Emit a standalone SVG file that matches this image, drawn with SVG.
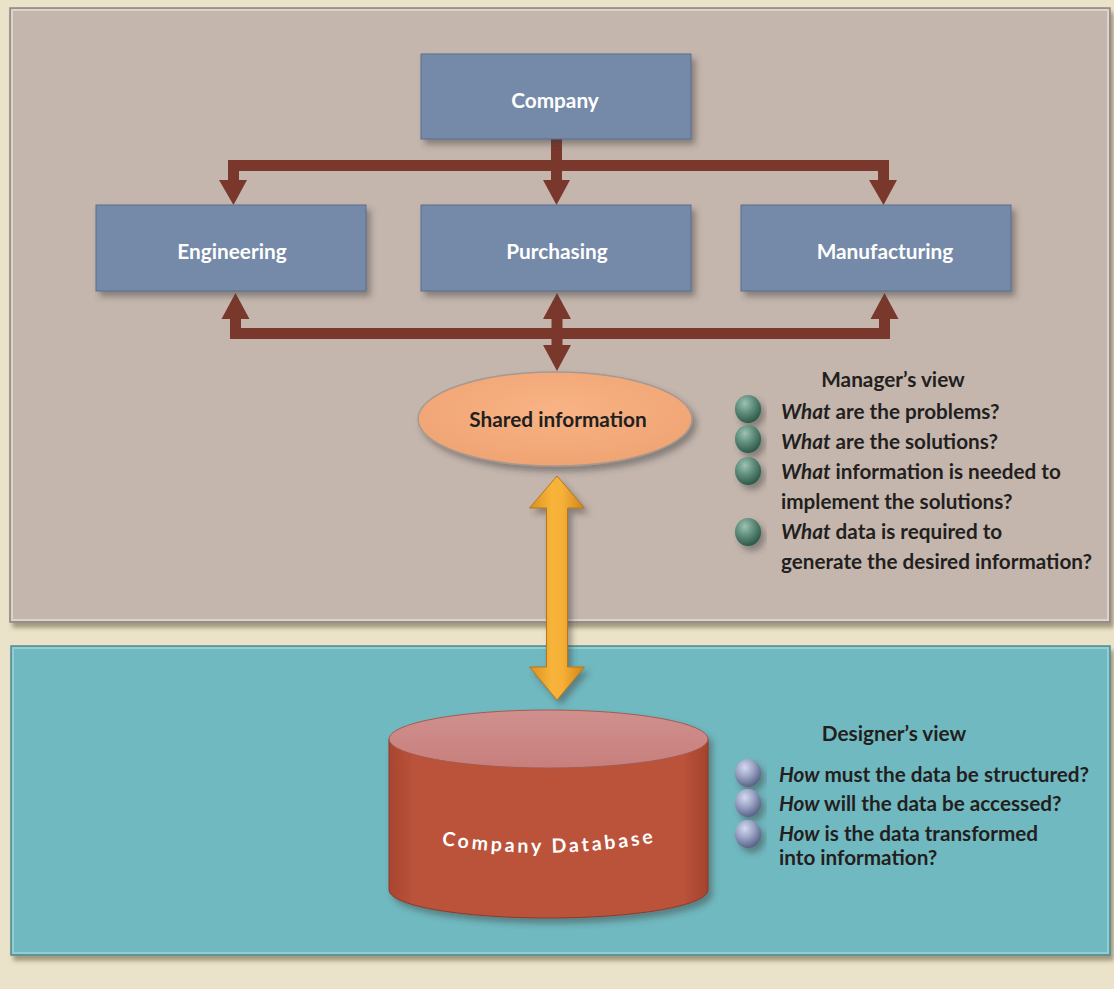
<svg xmlns="http://www.w3.org/2000/svg" width="1114" height="989" viewBox="0 0 1114 989">
<defs>
<style>
.lbl{font-family:Lato,"Open Sans","Liberation Sans",sans-serif;font-weight:bold;font-size:20.8px;fill:#ffffff;text-anchor:middle}
.hd{font-family:Lato,"Open Sans","Liberation Sans",sans-serif;font-weight:bold;font-size:20.8px;fill:#231f20;text-anchor:middle}
.bt{font-family:Lato,"Open Sans","Liberation Sans",sans-serif;font-weight:bold;font-size:20.7px;fill:#231f20}
.bt tspan.i{font-style:italic}
.box{fill:#7489a8;stroke:#5b6e8a;stroke-width:1}
.conn{fill:#7a382c}
</style>
<filter id="sh" x="-10%" y="-10%" width="130%" height="140%">
<feDropShadow dx="4" dy="5" stdDeviation="3" flood-color="#3a3a3a" flood-opacity="0.45"/>
</filter>
<filter id="psh" x="-5%" y="-5%" width="110%" height="115%">
<feDropShadow dx="3" dy="5" stdDeviation="2" flood-color="#5a5030" flood-opacity="0.5"/>
</filter>
<linearGradient id="boxg" x1="0" y1="0" x2="0" y2="1">
<stop offset="0" stop-color="#7f93b0"/>
<stop offset="0.1" stop-color="#7489a8"/>
<stop offset="0.9" stop-color="#7186a5"/>
<stop offset="1" stop-color="#5a6d8a"/>
</linearGradient>
<linearGradient id="orng" x1="0" y1="0" x2="1" y2="0">
<stop offset="0" stop-color="#d8901f"/>
<stop offset="0.4" stop-color="#f7b43a"/>
<stop offset="0.6" stop-color="#f6b038"/>
<stop offset="1" stop-color="#cf8519"/>
</linearGradient>
<radialGradient id="ellg" cx="0.5" cy="0.4" r="0.6">
<stop offset="0" stop-color="#f8b384"/>
<stop offset="1" stop-color="#f0a474"/>
</radialGradient>
<radialGradient id="green" cx="0.38" cy="0.3" r="0.7">
<stop offset="0" stop-color="#9cc2b2"/>
<stop offset="0.5" stop-color="#5f8d7c"/>
<stop offset="1" stop-color="#2f5a4a"/>
</radialGradient>
<radialGradient id="blue" cx="0.38" cy="0.3" r="0.7">
<stop offset="0" stop-color="#d4daf0"/>
<stop offset="0.5" stop-color="#9aa3c4"/>
<stop offset="1" stop-color="#5a6488"/>
</radialGradient>
<linearGradient id="cylg" x1="0" y1="0" x2="1" y2="0">
<stop offset="0" stop-color="#a8452f"/>
<stop offset="0.08" stop-color="#bb533b"/>
<stop offset="0.92" stop-color="#bb533b"/>
<stop offset="1" stop-color="#a4432e"/>
</linearGradient>
<linearGradient id="topg" x1="0" y1="0" x2="0" y2="1">
<stop offset="0" stop-color="#d0908e"/>
<stop offset="1" stop-color="#c77f7c"/>
</linearGradient>
<path id="dbpath" d="M 430,843 Q 549,864 668,840"/>
</defs>

<rect x="0" y="0" width="1114" height="989" fill="#ebe3c9"/>

<g id="manager-panel">
<rect x="10" y="8" width="1100" height="614" fill="#c4b6ad" stroke="#8d8580" stroke-width="1.5" filter="url(#psh)"/>
<rect x="12" y="10" width="1096" height="610" fill="none" stroke="#dcd3cf" stroke-width="2"/>
</g>
<g id="designer-panel">
<rect x="11" y="646" width="1099" height="309" fill="#6fb9c0" stroke="#4f8c92" stroke-width="1.5" filter="url(#psh)"/>
<rect x="13" y="648" width="1095" height="305" fill="none" stroke="#93cdd2" stroke-width="2"/>
</g>

<g id="connectors">
<rect class="conn" x="551" y="139" width="11" height="42"/>
<rect class="conn" x="228" y="160" width="661" height="11"/>
<rect class="conn" x="228" y="160" width="11" height="21"/>
<rect class="conn" x="878" y="160" width="11" height="21"/>
<polygon class="conn" points="219,180 247,180 233.5,205"/>
<polygon class="conn" points="543,180 570,180 556.5,205"/>
<polygon class="conn" points="869,180 897,180 883.5,205"/>

<rect class="conn" x="230" y="328" width="660" height="11"/>
<rect class="conn" x="230" y="318" width="11" height="21"/>
<rect class="conn" x="879" y="318" width="11" height="21"/>
<rect class="conn" x="551.5" y="318" width="11" height="28"/>
<polygon class="conn" points="221.5,319 249.5,319 235.5,293"/>
<polygon class="conn" points="870.5,319 898.5,319 884.5,293"/>
<polygon class="conn" points="543,319 571,319 557,293"/>
<polygon class="conn" points="543,345 571,345 557,371"/>

<polygon points="557,476 584.5,508 567.5,508 567.5,667 584.5,667 557,700 529.5,667 546.5,667 546.5,508 529.5,508" fill="url(#orng)" stroke="#b8761c" stroke-width="1" filter="url(#sh)"/>
</g>

<g id="company">
<rect class="box" x="421" y="54" width="270" height="85" fill="url(#boxg)" filter="url(#sh)"/>
<text class="lbl" x="555" y="108">Company</text>
</g>
<g id="engineering">
<rect class="box" x="96" y="205" width="270" height="86" fill="url(#boxg)" filter="url(#sh)"/>
<text class="lbl" x="232" y="259">Engineering</text>
</g>
<g id="purchasing">
<rect class="box" x="421" y="205" width="270" height="86" fill="url(#boxg)" filter="url(#sh)"/>
<text class="lbl" x="557" y="259">Purchasing</text>
</g>
<g id="manufacturing">
<rect class="box" x="741" y="205" width="270" height="86" fill="url(#boxg)" filter="url(#sh)"/>
<text class="lbl" x="885" y="259">Manufacturing</text>
</g>

<g id="shared-information">
<ellipse cx="555" cy="419" rx="137" ry="47" fill="url(#ellg)" stroke="#a89890" stroke-width="1.5" filter="url(#sh)"/>
<text class="hd" x="558" y="427" font-size="21.5px">Shared information</text>
</g>

<g id="managers-view">
<text class="hd" x="893" y="387">Manager’s view</text>
<g filter="url(#sh)">
<ellipse cx="748" cy="409" rx="13" ry="14" fill="url(#green)"/>
<ellipse cx="748" cy="439" rx="13" ry="14" fill="url(#green)"/>
<ellipse cx="748" cy="471" rx="13" ry="14" fill="url(#green)"/>
<ellipse cx="748" cy="532" rx="13" ry="14" fill="url(#green)"/>
</g>
<text class="bt" x="781" y="419"><tspan class="i">What</tspan> are the problems?</text>
<text class="bt" x="781" y="449"><tspan class="i">What</tspan> are the solutions?</text>
<text class="bt" x="781" y="479"><tspan class="i">What</tspan> information is needed to</text>
<text class="bt" x="781" y="509">implement the solutions?</text>
<text class="bt" x="781" y="539"><tspan class="i">What</tspan> data is required to</text>
<text class="bt" x="781" y="569">generate the desired information?</text>
</g>

<g id="company-database">
<g filter="url(#sh)">
<path d="M 389,739 L 389,890 A 159.5,28 0 0 0 708,890 L 708,739 Z" fill="url(#cylg)" stroke="#8e3a28" stroke-width="1"/>
<ellipse cx="548.5" cy="739" rx="159.5" ry="29" fill="url(#topg)" stroke="#a55a50" stroke-width="1"/>
</g>
<text font-family="Lato,'Open Sans','Liberation Sans',sans-serif" font-weight="bold" font-size="19.5" fill="#ffffff" letter-spacing="3" text-anchor="middle"><textPath href="#dbpath" startOffset="50%">Company Database</textPath></text>
</g>

<g id="designers-view">
<text class="hd" x="894" y="741">Designer’s view</text>
<g filter="url(#sh)">
<ellipse cx="748" cy="773" rx="13" ry="14" fill="url(#blue)"/>
<ellipse cx="748" cy="803" rx="13" ry="14" fill="url(#blue)"/>
<ellipse cx="748" cy="834" rx="13" ry="14" fill="url(#blue)"/>
</g>
<text class="bt" x="779" y="782"><tspan class="i">How</tspan> must the data be structured?</text>
<text class="bt" x="779" y="811"><tspan class="i">How</tspan> will the data be accessed?</text>
<text class="bt" x="779" y="841"><tspan class="i">How</tspan> is the data transformed</text>
<text class="bt" x="779" y="865">into information?</text>
</g>
</svg>
